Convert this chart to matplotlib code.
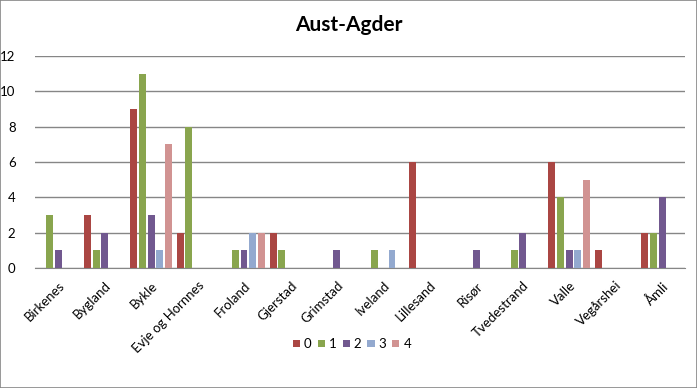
import numpy as np
import matplotlib.pyplot as plt
from matplotlib.patches import Rectangle

plt.rcParams["font.family"] = ["Lato", "DejaVu Sans"]

# Data
kommuner = ["Birkenes", "Bygland", "Bykle", "Evje og Hornnes", "Froland", "Gjerstad",
            "Grimstad", "Iveland", "Lillesand", "Risør", "Tvedestrand", "Valle",
            "Vegårshei", "Åmli"]
series_names = ["0", "1", "2", "3", "4"]
s0 = [0, 3, 9, 2, 0, 2, 0, 0, 6, 0, 0, 6, 1, 2]
s1 = [3, 1, 11, 8, 1, 1, 0, 1, 0, 0, 1, 4, 0, 2]
s2 = [1, 2, 3, 0, 1, 0, 1, 0, 0, 1, 2, 1, 0, 4]
s3 = [0, 0, 1, 0, 2, 0, 0, 1, 0, 0, 0, 1, 0, 0]
s4 = [0, 0, 7, 0, 2, 0, 0, 0, 0, 0, 0, 5, 0, 0]
colors = ["#AA4643", "#89A54E", "#71588F", "#93A9CF", "#D19392"]

fig = plt.figure(figsize=(6.97, 3.88), dpi=100)
fig.patches.append(Rectangle((0, 0), 1, 1, transform=fig.transFigure,
                             fill=False, edgecolor="#868686", lw=1.2))
ax = fig.add_axes([0.0502, 0.309, 0.933, 0.547])

x = np.arange(len(kommuner))
slot = 0.186
for i, (vals, c) in enumerate(zip([s0, s1, s2, s3, s4], colors)):
    ax.bar(x + (i - 2) * slot, vals, width=0.15, color=c, label=series_names[i], zorder=3)

ax.set_xlim(-0.5, len(kommuner) - 0.5)
ax.set_ylim(0, 12)
ax.set_yticks(range(0, 13, 2))
ax.yaxis.grid(True, color="#868686", lw=1.0, zorder=0)
for sp in ["top", "right", "left"]:
    ax.spines[sp].set_visible(False)
ax.spines["bottom"].set_color("#868686")
ax.tick_params(axis="y", length=0, labelsize=9.5, pad=14)
ax.tick_params(axis="x", length=0, labelsize=9.5, pad=8)
ax.set_xticks(x)
ax.set_xticklabels(kommuner, rotation=45, ha="right", rotation_mode="anchor")

fig.text(0.5, 0.935, "Aust-Agder", ha="center", va="center", fontsize=15, fontweight="bold")
fig.legend(loc="center", bbox_to_anchor=(0.505, 0.113), ncol=5, frameon=False,
           fontsize=9.5, handlelength=0.55, handleheight=0.55, handletextpad=0.3,
           columnspacing=0.45)

fig.savefig("out.png", dpi=100)
